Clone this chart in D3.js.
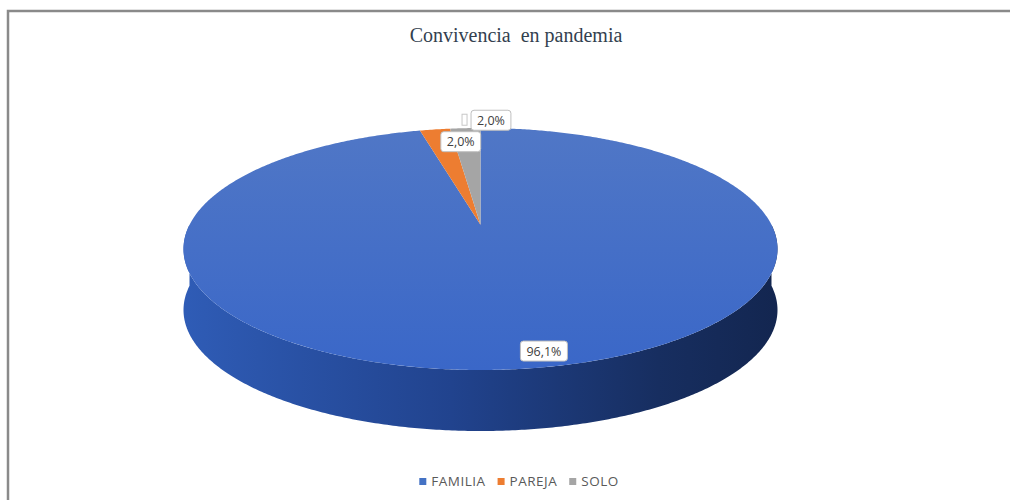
<!DOCTYPE html>
<html>
<head>
<meta charset="utf-8">
<script src="https://cdn.jsdelivr.net/npm/d3@7"></script>
<style>
  html, body { margin: 0; padding: 0; background: #fff; }
  svg { display: block; }
</style>
</head>
<body>
<div id="chart"></div>
<script>
// Chart data.
var categories = ['FAMILIA', 'PAREJA', 'SOLO'];
var values = [96.1, 2.0, 2.0];
var value_labels = ['96,1%', '2,0%', '2,0%'];
var colours = ['#4472c4', '#ed7d31', '#a5a5a5'];
var title = 'Convivencia  en pandemia';

var width = 1010, height = 500;

// Geometry of the tilted pie.
var cx = 480.5, cy = 249, rx = 297, ry = 121, depth = 61;
// Perspective shift of the pie centre towards the back edge.
var tilt = 0.2, tilt_k = Math.sqrt(1 - tilt * tilt);

var svg = d3.select('#chart').append('svg')
    .attr('width', width)
    .attr('height', height);

var defs = svg.append('defs');
var top_grad = defs.append('linearGradient')
    .attr('id', 'top-grad').attr('x1', 0).attr('y1', 0).attr('x2', 0).attr('y2', 1);
top_grad.append('stop').attr('offset', '0%').attr('stop-color', '#5077c6');
top_grad.append('stop').attr('offset', '100%').attr('stop-color', '#3a67c8');
var side_grad = defs.append('linearGradient')
    .attr('id', 'side-grad').attr('x1', 0).attr('y1', 0).attr('x2', 1).attr('y2', 0);
side_grad.append('stop').attr('offset', '0%').attr('stop-color', '#2f5cb6');
side_grad.append('stop').attr('offset', '45%').attr('stop-color', '#21438e');
side_grad.append('stop').attr('offset', '80%').attr('stop-color', '#172e60');
side_grad.append('stop').attr('offset', '100%').attr('stop-color', '#132650');

// Frame lines of the original picture.
svg.append('path')
    .attr('d', 'M8,' + height + 'V11H' + width)
    .attr('fill', 'none')
    .attr('stroke', '#8a8a8a')
    .attr('stroke-width', 2.5);

// Title.
svg.append('text')
    .attr('x', 516)
    .attr('y', 42)
    .attr('text-anchor', 'middle')
    .style('white-space', 'pre')
    .attr('font-family', '"Liberation Serif", "DejaVu Serif", serif')
    .attr('font-size', 20)
    .attr('fill', '#333f4f')
    .text(title);

// Project a point of the flat pie (angle from 12 o'clock, clockwise; radius 0..1).
function project(angle, r) {
    var u = r * Math.sin(angle), v = r * Math.cos(angle);
    var d = 1 + tilt * v;
    return [cx + rx * u * tilt_k / d, cy - ry * (v + tilt) / d];
}

function rim(a0, a1, r) {
    var n = Math.max(2, Math.ceil(Math.abs(a1 - a0) / (Math.PI / 360)));
    return d3.range(n + 1).map(function(i) { return project(a0 + (a1 - a0) * i / n, r); });
}

var pie = d3.pie().sort(null).value(function(d) { return d; });
var arcs = pie(values);
var colour = d3.scaleOrdinal().domain(categories).range(colours);
var line = d3.line();

// Side wall: the near half of the rim (angles pi/2 .. 3pi/2).
var side_g = svg.append('g').attr('class', 'sides');
arcs.forEach(function(a, i) {
    var a0 = Math.max(a.startAngle, Math.PI / 2), a1 = Math.min(a.endAngle, 3 * Math.PI / 2);
    if (a1 <= a0) return;
    var upper = rim(a0, a1, 1);
    var lower = upper.slice().reverse().map(function(p) { return [p[0], p[1] + depth]; });
    side_g.append('path')
        .attr('d', line(upper.concat(lower)) + 'Z')
        .attr('fill', i === 0 ? 'url(#side-grad)' : d3.color(colour(categories[i])).darker(1));
});

// Top face slices.
var top_g = svg.append('g').attr('class', 'tops');
arcs.forEach(function(a, i) {
    var pts = [project(0, 0)].concat(rim(a.startAngle, a.endAngle, 1));
    top_g.append('path')
        .attr('d', line(pts) + 'Z')
        .attr('fill', i === 0 ? 'url(#top-grad)' : colour(categories[i]));
});

// Data labels: radius of the anchor point per slice (outside for the last one).
var label_r = [0.9, 0.85, 1.1];
var label_g = svg.append('g').attr('class', 'labels')
    .attr('font-family', '"Open Sans", "Liberation Sans", sans-serif')
    .attr('font-size', 12.5);
arcs.forEach(function(a, i) {
    var mid = (a.startAngle + a.endAngle) / 2;
    var p = project(mid, label_r[i]);
    var outside = label_r[i] > 1;
    var bx = p[0] + (outside ? 7 : 0);
    var g = label_g.append('g');
    if (outside) {
        g.append('rect')
            .attr('x', p[0] - 2).attr('y', p[1] - 6)
            .attr('width', 5).attr('height', 11)
            .attr('fill', '#fff').attr('stroke', '#c8c8c8').attr('stroke-width', 1);
    }
    var t = g.append('text')
        .attr('x', bx + 6)
        .attr('y', p[1] + 4.5)
        .attr('fill', '#404040')
        .text(value_labels[i]);
    var w = t.node().getComputedTextLength();
    g.insert('rect', 'text')
        .attr('x', bx).attr('y', p[1] - 10)
        .attr('width', w + 12).attr('height', 20)
        .attr('rx', 3)
        .attr('fill', '#fff')
        .attr('stroke', '#bfbfbf')
        .attr('stroke-width', 1);
});

// Legend, centred under the pie.
var legend = svg.append('g').attr('class', 'legend')
    .attr('font-family', '"Open Sans", "Liberation Sans", sans-serif')
    .attr('font-size', 13.5)
    .attr('letter-spacing', 0.5)
    .attr('fill', '#595959');
var items = legend.selectAll('g').data(categories).enter().append('g');
items.append('rect')
    .attr('width', 7).attr('height', 7)
    .attr('y', -8)
    .attr('fill', function(d) { return colour(d); });
items.append('text')
    .attr('x', 12)
    .attr('y', 0)
    .text(function(d) { return d; });
var offset = 0, offsets = [];
items.each(function() {
    offsets.push(offset);
    offset += 12 + d3.select(this).select('text').node().getComputedTextLength() + 12;
});
var total = offset - 12;
items.attr('transform', function(d, i) {
    return 'translate(' + (519 - total / 2 + offsets[i]) + ',486)';
});
</script>
</body>
</html>
